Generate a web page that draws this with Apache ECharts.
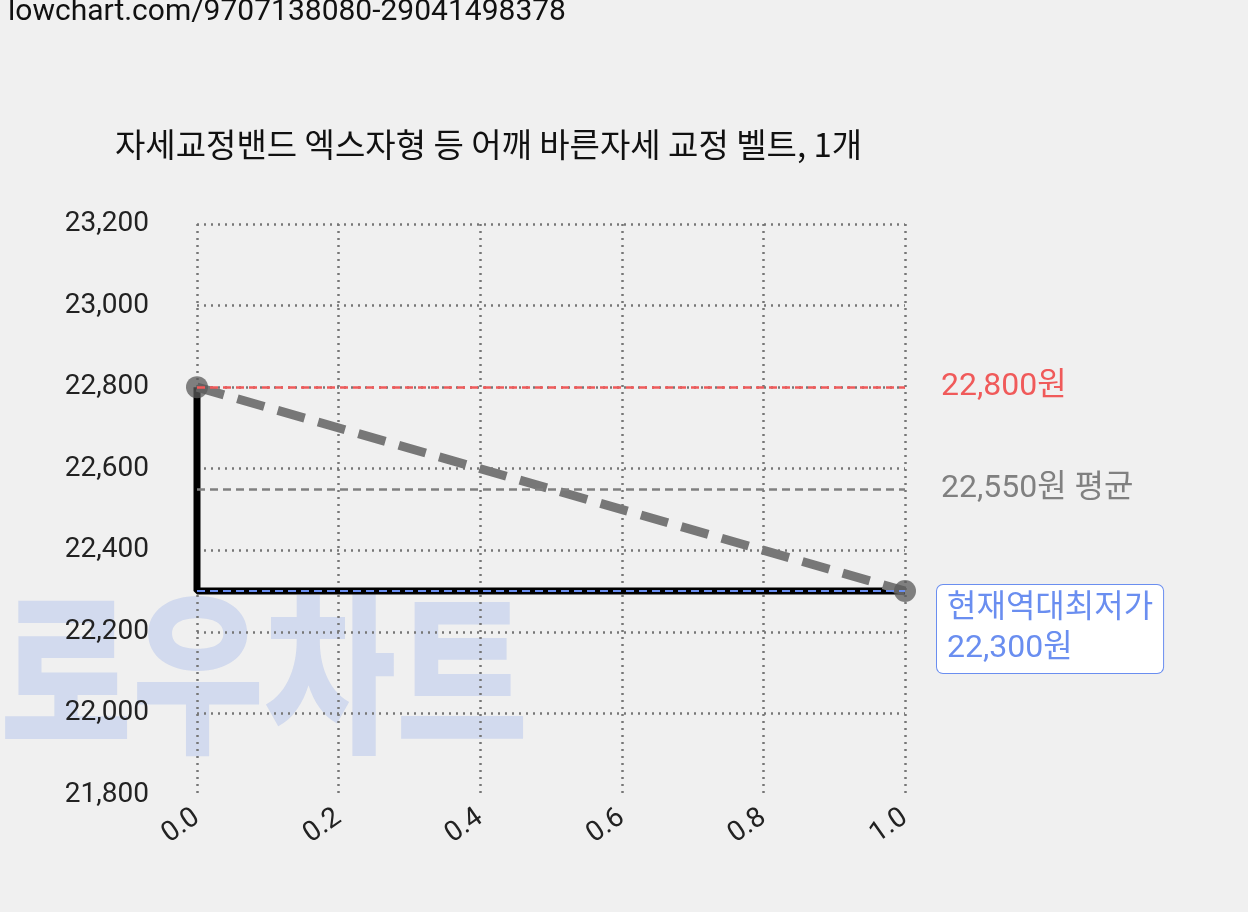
<!DOCTYPE html>
<html><head><meta charset="utf-8">
<script src="https://cdn.jsdelivr.net/npm/echarts@6/dist/echarts.min.js"></script>
<style>html,body{margin:0;background:#f0f0f0}#c{width:1248px;height:912px}</style>
</head><body><div id="c"></div>
<script>
const titleText = '자세교정밴드 엑스자형 등 어깨 바른자세 교정 벨트, 1개';
const priceX = [0, 0, 1];
const priceY = [22800, 22300, 22300];
const trendX = [0, 1];
const trendY = [22800, 22300];
const maxPrice = 22800, avgPrice = 22550, minPrice = 22300;
const F = 'Roboto, "Noto Sans CJK KR", sans-serif';
const chart = echarts.init(document.getElementById('c'));
chart.setOption({
  backgroundColor: '#f0f0f0',
  animation: false,
  graphic: [
    {type:'text', left: 8, top: -2, style:{text:'lowchart.com/9707138080-29041498378', font:'30px '+F, fill:'#111'}},
    {type:'text', left: 0, top: 585, z: 0, scaleX: 0.82, style:{text:'로우차트', font:'900 175px "Noto Sans CJK KR"', fill:'rgba(120,150,230,0.25)'}},
    {type:'text', left: 115, top: 128, style:{text:titleText, font:'33px "Noto Sans CJK KR"', fill:'#111'}}
  ],
  grid: {left: 197, right: 343, top: 224, bottom: 117},
  xAxis: {type:'value', min:0, max:1, interval:0.2,
    axisLine:{show:false}, axisTick:{show:false},
    axisLabel:{rotate:35, fontSize:28, color:'#222', fontFamily:F, margin:20, formatter:v=>v.toFixed(1)},
    splitLine:{show:true, lineStyle:{type:[2,5], color:'#777', width:2.5}}},
  yAxis: {type:'value', min:21800, max:23200, interval:200,
    axisLine:{show:false}, axisTick:{show:false},
    axisLabel:{fontSize:28, color:'#222', fontFamily:F, margin:48, formatter:v=>v.toLocaleString('en-US')},
    splitLine:{show:true, showMinLine:false, lineStyle:{type:[2,5], color:'#777', width:2.5}}},
  series: [
    {type:'line', data: priceX.map((x,i)=>[x,priceY[i]]), symbol:'none', lineStyle:{color:'#000', width:7}, z:3,
     markLine:{silent:true, symbol:'none', data:[
       {yAxis:maxPrice, lineStyle:{color:'#f05a5a', type:[8,5], width:2.5},
        label:{position:'end', formatter:'22,800원', color:'#f05a5a', fontSize:32, fontFamily:F, distance:36}},
       {yAxis:avgPrice, lineStyle:{color:'#808080', type:[8,5], width:2.5},
        label:{position:'end', formatter:'22,550원 평균', color:'#808080', fontSize:32, fontFamily:F, distance:36}},
       {yAxis:minPrice, lineStyle:{color:'#6a8ef0', type:[8,5], width:2},
        label:{position:'end', formatter:'현재역대최저가\n22,300원', color:'#6a8ef0', fontSize:32, fontFamily:F, distance:32,
          offset:[0,38], backgroundColor:'#fff', borderColor:'#6a8ef0', borderWidth:1, borderRadius:6, padding:[4,10], lineHeight:40}}
     ]}},
    {type:'line', data: trendX.map((x,i)=>[x,trendY[i]]), symbol:'circle', symbolSize:22,
     itemStyle:{color:'rgba(90,90,90,0.75)'}, lineStyle:{color:'#777', width:9, type:[28,14]}, z:4}
  ]
});
</script></body></html>
